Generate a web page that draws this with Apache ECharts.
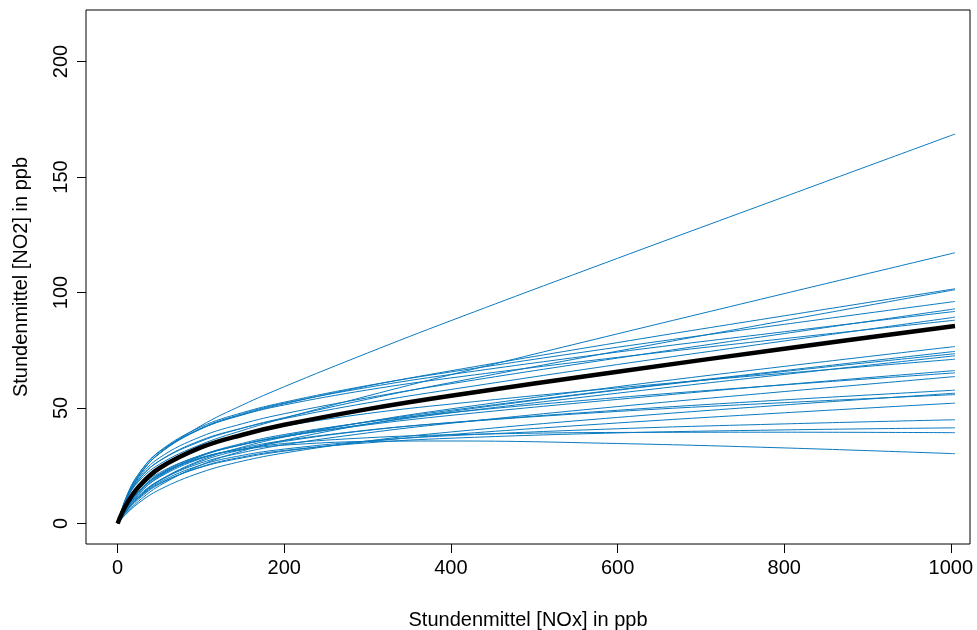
<!DOCTYPE html>
<html>
<head>
<meta charset="utf-8">
<script src="https://cdn.jsdelivr.net/npm/echarts@6/dist/echarts.min.js"></script>
<style>
html,body{margin:0;padding:0;background:#fff;}
#chart{width:977px;height:630px;}
</style>
</head>
<body>
<div id="chart"></div>
<script>
// NOx sample positions (ppb)
var noxValues = [0, 10, 25, 50, 100, 150, 200, 300, 400, 600, 800, 1005];
// Individual station curves (NO2 in ppb)
var curve01 = [0, 10.8, 20.6, 30.3, 42.3, 51.3, 59.2, 73.8, 87.8, 114.8, 141.4, 168.6];
var curve02 = [0, 10.0, 18.1, 25.6, 34.2, 40.3, 45.6, 55.2, 64.4, 82.1, 99.5, 117.2];
var curve03 = [0, 11.2, 21.4, 31.0, 41.0, 47.2, 51.8, 59.5, 66.1, 78.3, 89.9, 101.6];
var curve04 = [0, 10.1, 18.9, 27.0, 35.6, 41.3, 45.8, 53.8, 61.0, 74.6, 87.8, 101.2];
var curve05 = [0, 10.9, 21.2, 31.2, 41.8, 48.0, 52.5, 59.7, 65.6, 76.3, 86.2, 96.1];
var curve06 = [0, 10.3, 19.6, 28.4, 37.6, 43.2, 47.5, 54.4, 60.5, 71.6, 82.2, 92.9];
var curve07 = [0, 10.2, 20.3, 30.4, 41.2, 47.5, 52.1, 58.9, 64.5, 74.2, 83.0, 91.8];
var curve08 = [0, 9.8, 18.7, 27.1, 36.0, 41.3, 45.4, 52.2, 58.0, 68.8, 79.0, 89.3];
var curve09 = [0, 10.2, 20.2, 30.2, 40.9, 47.0, 51.3, 57.8, 63.0, 71.9, 80.0, 88.0];
var curve10 = [0, 5.4, 11.5, 18.6, 27.4, 33.1, 37.4, 44.1, 49.6, 59.2, 68.0, 76.6];
var curve11 = [0, 6.7, 13.6, 20.9, 29.1, 34.2, 38.0, 44.0, 49.0, 57.9, 66.2, 74.5];
var curve12 = [0, 4.3, 9.6, 16.3, 25.3, 31.4, 36.0, 43.0, 48.5, 57.7, 65.8, 73.5];
var curve13 = [0, 7.6, 14.8, 21.9, 29.5, 34.1, 37.6, 43.1, 47.9, 56.4, 64.5, 72.6];
var curve14 = [0, 7.9, 16.0, 24.4, 33.4, 38.6, 42.2, 47.6, 51.7, 58.7, 65.0, 71.1];
var curve15 = [0, 6.9, 14.0, 21.4, 29.5, 34.2, 37.6, 42.7, 46.8, 53.7, 60.1, 66.2];
var curve16 = [0, 6.0, 12.7, 20.3, 29.3, 34.7, 38.5, 43.9, 48.0, 54.5, 60.0, 65.2];
var curve17 = [0, 5.8, 12.0, 18.6, 26.2, 30.7, 34.1, 39.2, 43.4, 50.6, 57.1, 63.6];
var curve18 = [0, 6.2, 12.8, 20.0, 28.1, 32.7, 35.9, 40.4, 43.7, 49.0, 53.5, 57.7];
var curve19 = [0, 4.0, 8.8, 14.6, 22.1, 27.0, 30.5, 35.7, 39.6, 45.9, 51.3, 56.4];
var curve20 = [0, 5.2, 11.3, 18.4, 26.9, 32.0, 35.5, 40.3, 43.6, 48.5, 52.3, 55.8];
var curve21 = [0, 5.3, 11.0, 17.3, 24.3, 28.4, 31.3, 35.4, 38.5, 43.5, 47.9, 52.1];
var curve22 = [0, 5.3, 11.2, 17.8, 25.3, 29.5, 32.2, 35.7, 38.0, 41.0, 43.1, 44.9];
var curve23 = [0, 4.9, 10.5, 17.0, 24.5, 28.8, 31.6, 34.9, 36.9, 39.2, 40.5, 41.4];
var curve24 = [0, 6.5, 13.4, 20.7, 28.3, 32.2, 34.6, 37.1, 38.4, 39.4, 39.5, 39.3];
var curve25 = [0, 6.7, 13.7, 21.1, 28.5, 32.0, 33.9, 35.5, 35.7, 34.6, 32.7, 30.2];
// Overall curve (thick black)
var meanCurve = [0, 7.9, 15.8, 23.9, 32.9, 38.4, 42.7, 49.5, 55.3, 65.7, 75.6, 85.5];

var xTicks = [0, 200, 400, 600, 800, 1000];
var yTicks = [0, 50, 100, 150, 200];

var stationCurves = [curve01, curve02, curve03, curve04, curve05, curve06, curve07, curve08, curve09,
  curve10, curve11, curve12, curve13, curve14, curve15, curve16, curve17, curve18, curve19,
  curve20, curve21, curve22, curve23, curve24, curve25];

function pairs(ys) {
  return noxValues.map(function (x, i) { return [x, ys[i]]; });
}

var FONT = '"Liberation Sans", Arial, sans-serif';
var series = stationCurves.map(function (c) {
  return {
    type: 'line', data: pairs(c), symbol: 'none', smooth: 0.4,
    lineStyle: { color: '#0a7abf', width: 1 }, silent: true, z: 2
  };
});
series.push({
  type: 'line', data: pairs(meanCurve), symbol: 'none', smooth: 0.4,
  lineStyle: { color: '#000000', width: 4.5 }, silent: true, z: 3
});

function plain(v) { return String(v); }

var chart = echarts.init(document.getElementById('chart'), null, { renderer: 'canvas' });
chart.setOption({
  animation: false,
  backgroundColor: '#ffffff',
  grid: {
    left: 86, top: 10, width: 884, height: 534, containLabel: false, outerBoundsMode: 'none',
    show: true, borderColor: '#000', borderWidth: 1, backgroundColor: 'transparent'
  },
  xAxis: {
    type: 'value', min: -38, max: 1023,
    name: 'Stundenmittel [NOx] in ppb', nameLocation: 'middle', nameGap: 66,
    nameTextStyle: { fontFamily: FONT, fontSize: 20, color: '#000' },
    axisLine: { show: false, onZero: false },
    axisTick: { show: true, inside: false, length: 9, lineStyle: { color: '#000', width: 1 }, customValues: xTicks },
    axisLabel: { show: true, margin: 14, fontFamily: FONT, fontSize: 20, color: '#000', customValues: xTicks, formatter: plain },
    splitLine: { show: false }
  },
  yAxis: {
    type: 'value', min: -8.9, max: 222.3,
    name: 'Stundenmittel [NO2] in ppb', nameLocation: 'middle', nameGap: 55,
    nameTextStyle: { fontFamily: FONT, fontSize: 20, color: '#000' },
    axisLine: { show: false, onZero: false },
    axisTick: { show: true, inside: false, length: 9, lineStyle: { color: '#000', width: 1 }, customValues: yTicks },
    axisLabel: { show: true, margin: 15, rotate: 90, fontFamily: FONT, fontSize: 20, color: '#000', customValues: yTicks, formatter: plain },
    splitLine: { show: false }
  },
  series: series
});
</script>
</body>
</html>
